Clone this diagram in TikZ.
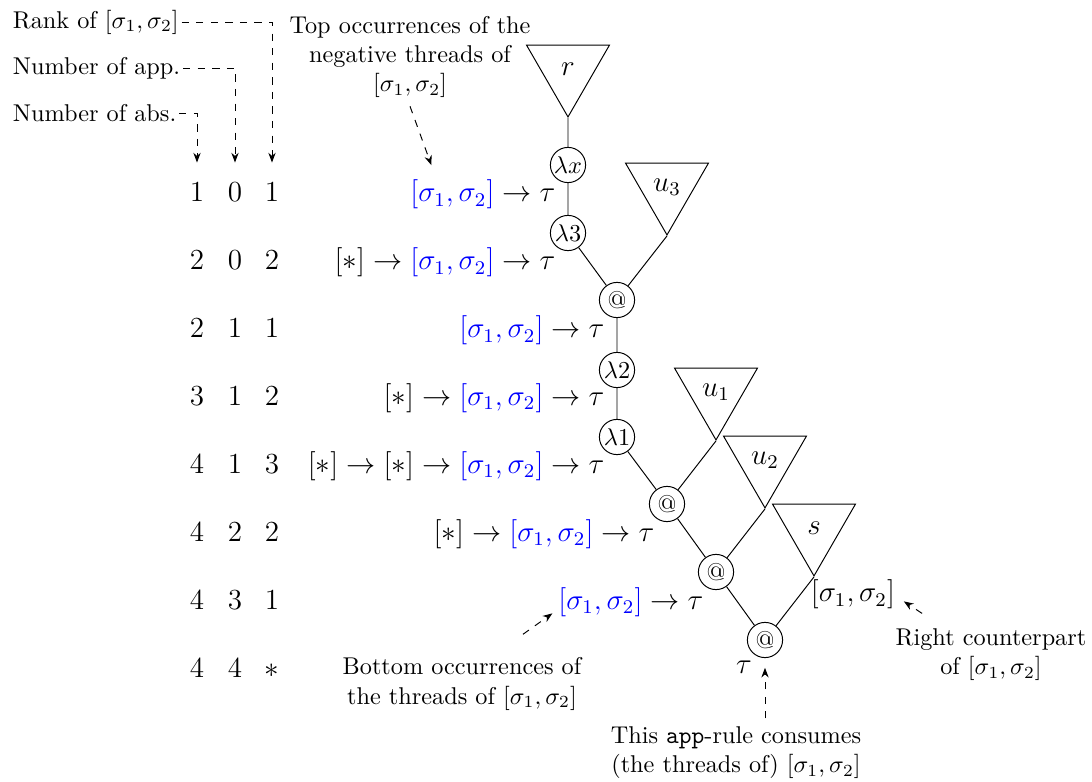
\documentclass[tikz,border=0pt]{standalone}
\usepackage{tikz}
\usetikzlibrary{positioning, shapes.geometric, arrows.meta, calc}
\newcommand{\thr}{[\sigma_1,\sigma_2]}
\newcommand{\bthr}{\textcolor{blue}{[\sigma_1,\sigma_2]}}

\begin{document}
\begin{tikzpicture}[
  x=0.412pt, y=-0.412pt,
  lam/.style={draw, circle, inner sep=0pt, minimum size=14.5pt},
  sub/.style={draw, regular polygon, regular polygon sides=3,
              regular polygon rotate=180, inner sep=0pt, minimum size=39.5pt,
              font=\large},
  num/.style={font=\large, anchor=base},
  ty/.style={font=\large, inner sep=1pt},
  head/.style={anchor=west, inner sep=1pt},
  note/.style={align=center},
  ann/.style={-{Stealth[length=4pt, width=3pt]}, dashed},
]
\useasboundingbox (0,0) rectangle (1092,782);

% counters on the left
\node[head] (hrank) at (10,22) {Rank of $\thr$};
\node[head] (happ) at (10,68) {Number of app.};
\node[head] (habs) at (10,113) {Number of abs.};

\foreach \a/\b/\c [count=\i] in {1/0/1, 2/0/2, 2/1/1, 3/1/2, 4/1/3, 4/2/2, 4/3/1, 4/4/*} {
  \node[num] (abs\i) at (197,{202+67.86*(\i-1)}) {$\a$};
  \node[num] (app\i) at (235,{202+67.86*(\i-1)}) {$\b$};
  \node[num] (rank\i) at (272,{202+67.86*(\i-1)}) {$\c$};
}

\draw[ann, shorten >=5pt] (hrank.east) -| (rank1.north);
\draw[ann, shorten >=5pt] (happ.east) -| (app1.north);
\draw[ann, shorten >=5pt] (habs.east) -| (abs1.north);

% the term
\node[sub] (tr) at (568,69) {$r$};
\node[lam] (lx) at (568,165) {$\lambda x$};
\node[lam] (l3) at (568,233) {$\lambda 3$};
\node[lam] (a1) at (617,300) {@};
\node[sub] (tu3) at (667,187) {$u_3$};
\node[lam] (l2) at (617,370) {$\lambda 2$};
\node[lam] (l1) at (617,437) {$\lambda 1$};
\node[lam] (a2) at (667,504) {@};
\node[sub] (tu1) at (716,392) {$u_1$};
\node[lam] (a3) at (716,572) {@};
\node[sub] (tu2) at (765,460) {$u_2$};
\node[lam] (a4) at (765,640) {@};
\node[sub] (ts) at (814,528) {$s$};

\draw (tr.corner 1) -- (lx) -- (l3) -- (a1) -- (l2) -- (l1) -- (a2) -- (a3) -- (a4);
\draw (tu3.corner 1) -- (a1);
\draw (tu1.corner 1) -- (a2);
\draw (tu2.corner 1) -- (a3);
\draw (ts.corner 1) -- (a4);

% types
\node[ty, anchor=base east, xshift=-4pt] (t1) at (lx |- abs1.base) {$\bthr\to\tau$};
\node[ty, anchor=base east, xshift=-4pt] (t2) at (l3 |- abs2.base) {$[*]\to\bthr\to\tau$};
\node[ty, anchor=base east, xshift=-4pt] (t3) at (a1 |- abs3.base) {$\bthr\to\tau$};
\node[ty, anchor=base east, xshift=-4pt] (t4) at (l2 |- abs4.base) {$[*]\to\bthr\to\tau$};
\node[ty, anchor=base east, xshift=-4pt] (t5) at (l1 |- abs5.base) {$[*]\to[*]\to\bthr\to\tau$};
\node[ty, anchor=base east, xshift=-4pt] (t6) at (a2 |- abs6.base) {$[*]\to\bthr\to\tau$};
\node[ty, anchor=base east, xshift=-4pt] (t7) at (a3 |- abs7.base) {$\bthr\to\tau$};
\node[ty, below left=2pt and -1pt of a4] (t8) {$\tau$};
\node[ty, anchor=north west, xshift=-2.5pt] (rc) at (ts.corner 1) {$\thr$};

% comments
\node[note] (top) at (410,57) {Top occurrences of the\\negative threads of\\$\thr$};
\node[note] (bot) at (462,684) {Bottom occurrences of\\the threads of $\thr$};
\node[note] (cons) at (736,753) {This \texttt{app}-rule consumes\\(the threads of) $\thr$};
\node[note] (rgt) at (991,655) {Right counterpart\\of $\thr$};

\draw[ann] (top.south) -- ($(t1.north west)+(24,-12)$);
\draw[ann] ($(bot.north)+(61,-15)$) -- ($(t7.south west)+(-3,-6)$);
\draw[ann, shorten >=4pt] (cons.north -| a4) -- (a4.south);
\draw[ann] ($(rgt.north west)+(35,-7)$) -- ($(rc.east)+(6,7)$);

\end{tikzpicture}
\end{document}
